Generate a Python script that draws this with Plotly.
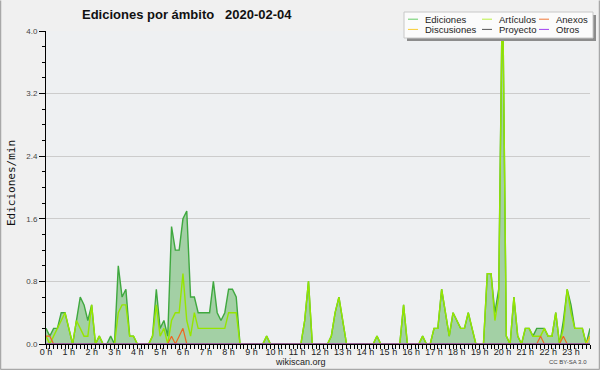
import plotly.graph_objects as go

# ---------------- data (10-minute bins, edits per minute) ----------------
hour_labels = [f"{h} h" for h in range(24)]

ediciones = [
    0.2, 0.1, 0.2, 0.2, 0.4, 0.4, 0.2, 0.0, 0.3, 0.6, 0.5, 0.3,
    0.5, 0.0, 0.1, 0.0, 0.0, 0.1, 0.0, 1.0, 0.6, 0.7, 0.1, 0.1,
    0.0, 0.0, 0.0, 0.0, 0.1, 0.7, 0.2, 0.3, 0.1, 1.5, 1.2, 1.2,
    1.6, 1.7, 0.6, 0.6, 0.4, 0.4, 0.4, 0.4, 0.8, 0.4, 0.3, 0.4,
    0.7, 0.7, 0.6, 0.0, 0.0, 0.0, 0.0, 0.0, 0.0, 0.0, 0.1, 0.0,
    0.0, 0.0, 0.0, 0.0, 0.0, 0.0, 0.0, 0.0, 0.3, 0.8, 0.0, 0.0,
    0.0, 0.0, 0.0, 0.1, 0.4, 0.6, 0.3, 0.0, 0.0, 0.0, 0.0, 0.0,
    0.0, 0.0, 0.0, 0.1, 0.0, 0.0, 0.0, 0.0, 0.0, 0.0, 0.5, 0.0,
    0.0, 0.0, 0.0, 0.1, 0.0, 0.0, 0.2, 0.2, 0.7, 0.4, 0.1, 0.4,
    0.3, 0.2, 0.2, 0.4, 0.2, 0.0, 0.0, 0.0, 0.9, 0.9, 0.4, 0.7,
    4.7, 0.1, 0.0, 0.6, 0.1, 0.0, 0.2, 0.2, 0.1, 0.2, 0.2, 0.2,
    0.1, 0.1, 0.4, 0.0, 0.3, 0.7, 0.5, 0.2, 0.2, 0.2, 0.0, 0.2,
]

articulos = [
    0.1, 0.0, 0.1, 0.2, 0.3, 0.4, 0.2, 0.0, 0.3, 0.2, 0.1, 0.1,
    0.5, 0.0, 0.1, 0.0, 0.0, 0.0, 0.0, 0.4, 0.5, 0.5, 0.1, 0.1,
    0.0, 0.0, 0.0, 0.0, 0.1, 0.5, 0.1, 0.2, 0.0, 0.3, 0.4, 0.4,
    0.9, 0.3, 0.1, 0.4, 0.2, 0.2, 0.2, 0.2, 0.2, 0.2, 0.2, 0.2,
    0.4, 0.4, 0.4, 0.0, 0.0, 0.0, 0.0, 0.0, 0.0, 0.0, 0.1, 0.0,
    0.0, 0.0, 0.0, 0.0, 0.0, 0.0, 0.0, 0.0, 0.3, 0.8, 0.0, 0.0,
    0.0, 0.0, 0.0, 0.1, 0.4, 0.6, 0.3, 0.0, 0.0, 0.0, 0.0, 0.0,
    0.0, 0.0, 0.0, 0.1, 0.0, 0.0, 0.0, 0.0, 0.0, 0.0, 0.5, 0.0,
    0.0, 0.0, 0.0, 0.1, 0.0, 0.0, 0.2, 0.2, 0.7, 0.4, 0.1, 0.4,
    0.3, 0.2, 0.2, 0.4, 0.2, 0.0, 0.0, 0.0, 0.9, 0.9, 0.3, 0.6,
    4.7, 0.1, 0.0, 0.6, 0.1, 0.0, 0.2, 0.2, 0.1, 0.1, 0.1, 0.2,
    0.1, 0.1, 0.4, 0.0, 0.2, 0.7, 0.4, 0.2, 0.2, 0.2, 0.0, 0.1,
]

anexos = [
    0.1, 0.1, 0.0, 0.0, 0.0, 0.0, 0.0, 0.0, 0.0, 0.0, 0.0, 0.0,
    0.0, 0.0, 0.0, 0.0, 0.0, 0.0, 0.0, 0.0, 0.0, 0.0, 0.0, 0.0,
    0.0, 0.0, 0.0, 0.0, 0.0, 0.0, 0.0, 0.0, 0.0, 0.1, 0.0, 0.1,
    0.2, 0.0, 0.0, 0.0, 0.0, 0.0, 0.0, 0.0, 0.0, 0.0, 0.0, 0.0,
    0.0, 0.0, 0.0, 0.0, 0.0, 0.0, 0.0, 0.0, 0.0, 0.0, 0.0, 0.0,
    0.0, 0.0, 0.0, 0.0, 0.0, 0.0, 0.0, 0.0, 0.0, 0.0, 0.0, 0.0,
    0.0, 0.0, 0.0, 0.0, 0.0, 0.0, 0.0, 0.0, 0.0, 0.0, 0.0, 0.0,
    0.0, 0.0, 0.0, 0.0, 0.0, 0.0, 0.0, 0.0, 0.0, 0.0, 0.0, 0.0,
    0.0, 0.0, 0.0, 0.0, 0.0, 0.0, 0.0, 0.0, 0.0, 0.0, 0.0, 0.0,
    0.0, 0.0, 0.0, 0.0, 0.0, 0.0, 0.0, 0.0, 0.0, 0.0, 0.0, 0.0,
    0.0, 0.0, 0.0, 0.0, 0.0, 0.0, 0.0, 0.0, 0.0, 0.0, 0.1, 0.0,
    0.0, 0.0, 0.0, 0.0, 0.1, 0.0, 0.0, 0.0, 0.0, 0.0, 0.0, 0.0,
]

discusiones = [0.0] * 143 + [0.1]
proyecto = [0.0] * 144
otros = [0.0] * 144

# ---------------- figure ----------------
W, H = 600, 370
L, R, T, B = 46, 10, 31, 26
PW, PH = W - L - R, H - T - B


def px(x):
    return (x - L) / PW


def py(y):
    return (H - B - y) / PH


xs = [i / 6 for i in range(len(ediciones))]

fig = go.Figure()
fig.add_trace(go.Scatter(x=xs, y=ediciones, mode="lines", name="Ediciones",
                         line=dict(color="#3fa83f", width=1.4),
                         fill="tozeroy", fillcolor="rgba(125,192,125,0.66)"))
fig.add_trace(go.Scatter(x=xs, y=articulos, mode="lines", name="Artículos",
                         line=dict(color="#96e600", width=1.4)))
fig.add_trace(go.Scatter(x=xs, y=anexos, mode="lines", name="Anexos",
                         line=dict(color="#ee6622", width=1.2)))
fig.add_trace(go.Scatter(x=xs, y=discusiones, mode="lines", name="Discusiones",
                         line=dict(color="#f5c21b", width=1.2)))
fig.add_trace(go.Scatter(x=xs, y=proyecto, mode="lines", name="Proyecto",
                         line=dict(color="#555555", width=1)))
fig.add_trace(go.Scatter(x=xs, y=otros, mode="lines", name="Otros",
                         line=dict(color="#9a3cf0", width=1)))

fig.update_layout(
    width=W, height=H,
    margin=dict(l=L, r=R, t=T, b=B, pad=0, autoexpand=False),
    paper_bgcolor="#f0f0f0", plot_bgcolor="#eef0f2",
    showlegend=False,
    font=dict(family="Liberation Sans", size=9, color="#333333"),
)

fig.update_xaxes(
    automargin=False,
    range=[0, xs[-1]], tickmode="array", tickvals=list(range(24)), ticktext=hour_labels,
    showgrid=False, zeroline=False, showline=True, linecolor="black", linewidth=1,
    ticks="outside", ticklen=4, tickcolor="black", tickwidth=1,
    tickfont=dict(family="Liberation Sans", size=9, color="#222222"),
    ticklabelstandoff=-5,
    minor=dict(tickmode="linear", tick0=0, dtick=1 / 6, ticks="outside", ticklen=4,
               tickcolor="black", tickwidth=1, showgrid=False),
)

fig.update_yaxes(
    automargin=False,
    range=[0, 4.0], tickmode="array", tickvals=[0, 0.8, 1.6, 2.4, 3.2, 4.0],
    ticktext=["0.0", "0.8", "1.6", "2.4", "3.2", "4.0"],
    showgrid=True, gridcolor="#cccccc", gridwidth=1, zeroline=False,
    showline=True, linecolor="black", linewidth=1,
    ticks="outside", ticklen=6, tickcolor="black", tickwidth=1,
    tickfont=dict(family="Liberation Sans", size=8, color="#444444"),
    minor=dict(tickmode="linear", tick0=0, dtick=0.2, ticks="outside", ticklen=3,
               tickcolor="black", tickwidth=1, showgrid=False),
)

shapes = []
annotations = []

# outer frame
for (x0, y0, x1, y1) in [(0.5, 0.5, 0.5, 369.5), (0.5, 369.5, 599.5, 369.5), (599.5, 0.5, 599.5, 369.5)]:
    shapes.append(dict(type="line", xref="paper", yref="paper", x0=px(x0), y0=py(y0),
                       x1=px(x1), y1=py(y1), line=dict(color="#a8a8a8", width=1.5), layer="above"))

# title
annotations.append(dict(text="<b>Ediciones por ámbito \u00a0 2020-02-04</b>", xref="paper", yref="paper",
                        x=px(187), y=py(14), xanchor="center", yanchor="middle", showarrow=False,
                        font=dict(family="Liberation Sans", size=13, color="#111111")))
# y-axis title
annotations.append(dict(text="Ediciones/min", xref="paper", yref="paper", x=px(11), y=py(183),
                        xanchor="center", yanchor="middle", textangle=-90, showarrow=False,
                        font=dict(family="DejaVu Sans Mono", size=11, color="#111111")))
# footer
annotations.append(dict(text="wikiscan.org", xref="paper", yref="paper", x=px(300), y=py(362),
                        xanchor="center", yanchor="middle", showarrow=False,
                        font=dict(family="Liberation Sans", size=9, color="#222222")))
annotations.append(dict(text="CC BY-SA 3.0", xref="paper", yref="paper", x=px(589), y=py(362),
                        xanchor="right", yanchor="middle", showarrow=False,
                        font=dict(family="Liberation Sans", size=6, color="#444444")))

# legend box with shadow
shapes.append(dict(type="rect", xref="paper", yref="paper", x0=px(407), y0=py(41), x1=px(596), y1=py(15),
                   fillcolor="#8c8c8c", line=dict(width=0), layer="above"))
shapes.append(dict(type="rect", xref="paper", yref="paper", x0=px(404), y0=py(38), x1=px(593), y1=py(12),
                   fillcolor="#fbfbfb", line=dict(color="#c8c8c8", width=1), layer="above"))

legend_items = [
    ("Ediciones", "#66cc66", 408, 19.2), ("Artículos", "#b8f040", 482, 19.2), ("Anexos", "#f07838", 539, 19.2),
    ("Discusiones", "#f8cc33", 408, 29.4), ("Proyecto", "#555555", 482, 29.4), ("Otros", "#a040f0", 539, 29.4),
]
for name, col, lx, ly in legend_items:
    shapes.append(dict(type="line", xref="paper", yref="paper", x0=px(lx), y0=py(ly), x1=px(lx + 10), y1=py(ly),
                       line=dict(color=col, width=1), layer="above"))
    annotations.append(dict(text=name, xref="paper", yref="paper", x=px(lx + 15), y=py(ly + 0.3),
                            xanchor="left", yanchor="middle", showarrow=False,
                            font=dict(family="Liberation Sans", size=9.5, color="#222222")))

fig.update_layout(shapes=shapes, annotations=annotations)

fig.write_html("out.html", config={"displayModeBar": False},
               post_script="document.body.style.margin='0';document.body.style.padding='0';")
